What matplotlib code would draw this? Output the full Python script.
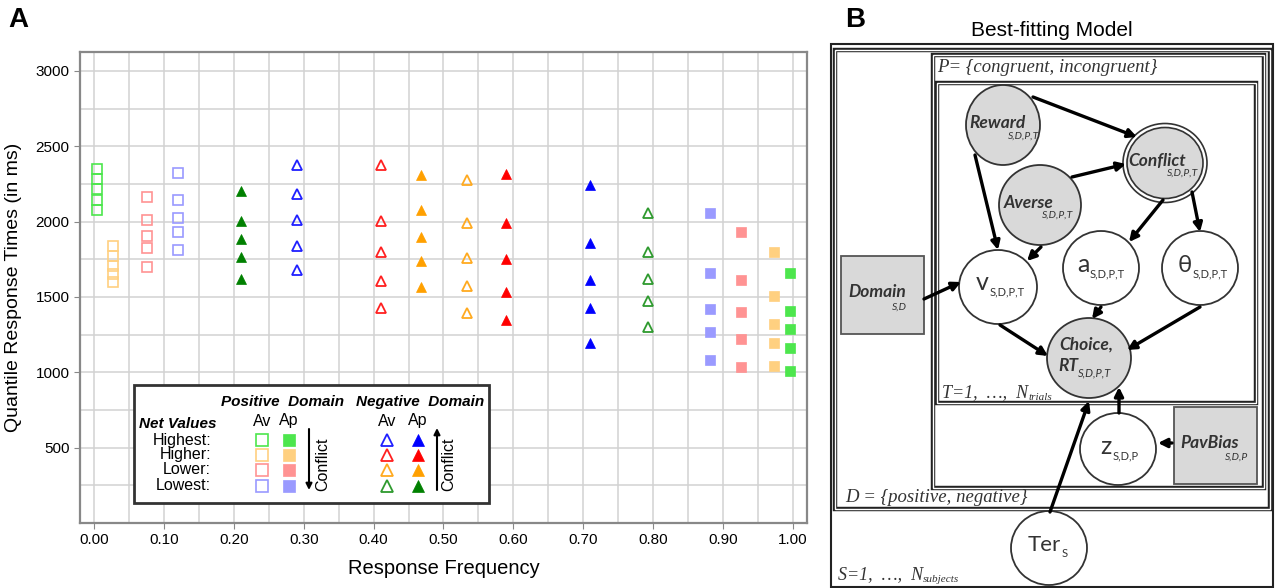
import numpy as np
import matplotlib as mpl
mpl.use("Agg")
import matplotlib.pyplot as plt
from matplotlib.patches import Ellipse, Rectangle

plt.rcParams['font.family'] = ['Liberation Sans', 'DejaVu Sans']

# ---- data (panel A) ----
levels = ["Highest:", "Higher:", "Lower:", "Lowest:"]

# response frequency of each choice, per net-value level
pos_av_freq = [0.005, 0.027, 0.076, 0.120]
pos_ap_freq = [0.996, 0.973, 0.926, 0.881]
neg_av_freq = [0.291, 0.411, 0.533, 0.792]
neg_ap_freq = [0.710, 0.589, 0.468, 0.210]

# five RT quantiles (ms) per level
pos_av_rt = [[2078, 2145, 2216, 2282, 2350],
             [1601, 1652, 1702, 1769, 1840],
             [1698, 1824, 1901, 2012, 2166],
             [1813, 1932, 2025, 2143, 2319]]
pos_ap_rt = [[1011, 1163, 1287, 1408, 1656],
             [1039, 1192, 1322, 1506, 1800],
             [1035, 1221, 1400, 1614, 1928],
             [1084, 1269, 1422, 1660, 2056]]
neg_av_rt = [[1680, 1835, 2010, 2182, 2377],
             [1426, 1605, 1800, 2003, 2377],
             [1391, 1572, 1758, 1992, 2279],
             [1298, 1475, 1616, 1800, 2054]]
neg_ap_rt = [[1196, 1424, 1609, 1857, 2242],
             [1349, 1535, 1749, 1990, 2317],
             [1568, 1738, 1895, 2076, 2310],
             [1619, 1765, 1884, 2001, 2206]]

pos_colors = ['#4de64d', '#ffd080', '#ff9393', '#9a9aff']
neg_colors = ['#0000ff', '#ff0000', '#ffa000', '#008000']
neg_open_colors = ['#2020ff', '#ff2020', '#ffaa20', '#2e9a2e']

fig = plt.figure(figsize=(12.75, 5.88), dpi=100)
W, H = 1275, 588

ax = fig.add_axes([80 / W, 1 - 523 / H, 727 / W, 471 / H])
ax.set_xlim(-0.02, 1.02)
ax.set_ylim(0, 3125)
ax.set_xticks(np.arange(0, 1.01, 0.1))
ax.set_xticks(np.arange(0, 1.01, 0.05), minor=True)
ax.set_xticklabels([f"{v:.2f}" for v in np.arange(0, 1.01, 0.1)])
ax.set_yticks(np.arange(500, 3001, 500))
ax.set_yticks(np.arange(0, 3001, 250), minor=True)
ax.grid(True, which='both', color='#d2d2d2', lw=1.1)
ax.set_axisbelow(True)
ax.tick_params(which='both', length=4, color='#888888', labelsize=11)
ax.tick_params(which='minor', length=0)
for s in ax.spines.values():
    s.set_color('#888888')
    s.set_linewidth(1.6)
ax.set_xlabel("Response Frequency", fontsize=14.5, labelpad=8)
ax.set_ylabel("Quantile Response Times (in ms)", fontsize=14, labelpad=10)

for i in range(4):
    ax.plot([pos_av_freq[i]] * 5, pos_av_rt[i], 's', ms=7, mfc='none',
            mec=pos_colors[i], mew=1.2)
    ax.plot([pos_ap_freq[i]] * 5, pos_ap_rt[i], 's', ms=7, mfc=pos_colors[i],
            mec=pos_colors[i], mew=0.5)
    ax.plot([neg_av_freq[i]] * 5, neg_av_rt[i], '^', ms=7, mfc='none',
            mec=neg_open_colors[i], mew=1.3)
    ax.plot([neg_ap_freq[i]] * 5, neg_ap_rt[i], '^', ms=7, mfc=neg_colors[i],
            mec=neg_colors[i], mew=0.5)

# ---- overlay in pixel coordinates: legend box, labels, panel B ----
ov = fig.add_axes([0, 0, 1, 1], zorder=5)
ov.set_xlim(0, W)
ov.set_ylim(H, 0)
ov.axis('off')

ov.text(8, 20, "A", fontsize=20, fontweight='bold', va='center', ha='left')
ov.text(845, 20, "B", fontsize=20, fontweight='bold', va='center', ha='left')

# legend
ov.add_patch(Rectangle((134, 385), 355, 118, fc='white', ec='#333333', lw=2))
bi = dict(fontsize=11, fontweight='bold', fontstyle='italic', va='center')
ov.text(283, 402, "Positive  Domain", ha='center', **bi)
ov.text(420, 402, "Negative  Domain", ha='center', **bi)
ov.text(178, 424, "Net Values", ha='center', **bi)
for xh, lab in [(262, "Av"), (289, "Ap"), (387, "Av"), (418, "Ap")]:
    ov.text(xh, 421, lab, ha='center', va='center', fontsize=11.5)
rows = [440, 454.5, 469.5, 486]
for i, yr in enumerate(rows):
    ov.text(211, yr, levels[i], ha='right', va='center', fontsize=11.5)
    ov.plot(262, yr, 's', ms=8, mfc='none', mec=pos_colors[i], mew=1.2)
    ov.plot(289, yr, 's', ms=8, mfc=pos_colors[i], mec=pos_colors[i], mew=0.5)
    ov.plot(387, yr, '^', ms=8, mfc='none', mec=neg_open_colors[i], mew=1.3)
    ov.plot(418, yr, '^', ms=8, mfc=neg_colors[i], mec=neg_colors[i], mew=0.5)
ov.annotate("", xy=(309, 490), xytext=(309, 429),
            arrowprops=dict(arrowstyle='-|>', lw=1.5, color='black', mutation_scale=9,
                            shrinkA=0, shrinkB=0))
ov.annotate("", xy=(437, 428), xytext=(437, 490),
            arrowprops=dict(arrowstyle='-|>', lw=1.5, color='black', mutation_scale=9,
                            shrinkA=0, shrinkB=0))
ov.text(323, 464, "Conflict", rotation=90, ha='center', va='center', fontsize=11.5)
ov.text(449, 464, "Conflict", rotation=90, ha='center', va='center', fontsize=11.5)

# panel B: graphical model
ov.text(1052, 30, "Best-fitting Model", ha='center', va='center', fontsize=15)


def dbox(x0, y0, x1, y1):
    ov.add_patch(Rectangle((x0, y0), x1 - x0, y1 - y0, fc='none', ec='#222222', lw=3.2))
    ov.add_patch(Rectangle((x0, y0), x1 - x0, y1 - y0, fc='none', ec='white', lw=1.0))


def subscript(txt, text, size=7.5, dx=0.5, dy=-1, **kw):
    # place a subscript just after the lower-right corner of another text
    ov.annotate(text, xy=(1, 0.15), xycoords=txt, xytext=(dx, dy),
                textcoords='offset points', ha='left', va='center',
                fontsize=size, **kw)


ov.add_patch(Rectangle((831, 44), 442, 543, fc='none', ec='#222222', lw=1.5))
dbox(835, 50, 1270, 509)
dbox(933, 55, 1264, 488)
dbox(937, 83, 1256, 403)

serif = dict(family='Liberation Serif', fontstyle='italic', color='#333333')
ov.text(937, 67, "P= {congruent, incongruent}", ha='left', va='center',
        fontsize=13.5, **serif)
t = ov.text(942, 393, "T=1,  …,  N", ha='left', va='center', fontsize=13, **serif)
subscript(t, "trials", size=8, dx=0, dy=1, **serif)
ov.text(845, 498, "D = {positive, negative}", ha='left', va='center',
        fontsize=13.5, **serif)
t = ov.text(838, 575, "S=1,  …,  N", ha='left', va='center', fontsize=13, **serif)
subscript(t, "subjects", size=8, dx=0, dy=1, **serif)

gray = '#d9d9d9'
nodes = {
    'reward': (1003, 125, 37, 40, gray),
    'averse': (1040, 205, 41, 40, gray),
    'v': (998, 287, 39, 37, 'white'),
    'a': (1101, 268, 38, 37, 'white'),
    'theta': (1200, 268, 38, 37, 'white'),
    'choice': (1089, 358, 42, 40, gray),
    'z': (1118, 449, 38, 36, 'white'),
    'ter': (1049, 548, 38, 37, 'white'),
}
for cx, cy, rx, ry, fc in nodes.values():
    ov.add_patch(Ellipse((cx, cy), 2 * rx, 2 * ry, fc=fc, ec='#333333', lw=1.3))
ov.add_patch(Ellipse((1165, 163), 84, 79, fc='white', ec='#333333', lw=1.2))
ov.add_patch(Ellipse((1165, 163), 76, 71, fc=gray, ec='#333333', lw=1.2))
ov.add_patch(Rectangle((841, 256), 83, 78, fc=gray, ec='#555555', lw=1.3))
ov.add_patch(Rectangle((1174, 407), 83, 77, fc=gray, ec='#555555', lw=1.3))

lab = dict(family=['Lato', 'DejaVu Sans'], color='#333333')
it = dict(fontstyle='italic', fontweight='bold', fontsize=12.5, ha='center', va='center')
sub = dict(fontstyle='italic', fontsize=7.5, ha='center', va='center')
for txt, x, y, s, sx, sy in [("Reward", 997, 123, "S,D,P,T", 1024, 136),
                            ("Conflict", 1157, 161, "S,D,P,T", 1183, 173),
                            ("Averse", 1029, 203, "S,D,P,T", 1058, 215),
                            ("Domain", 877, 292, "S,D", 899, 307),
                            ("PavBias", 1210, 443, "S,D,P", 1237, 457)]:
    ov.text(x, y, txt, **it, **lab)
    ov.text(sx, sy, s, **sub, **lab)
ov.text(1086, 345, "Choice,", **it, **lab)
t = ov.text(1068, 366, "RT", **it, **lab)
subscript(t, "S,D,P,T", size=8, dx=0, dy=-1, fontstyle='italic', **lab)

for sym, x, y, s, fs in [("v", 982, 282, "S,D,P,T", 18),
                         ("a", 1083, 264, "S,D,P,T", 18),
                         ("θ", 1185, 265, "S,D,P,T", 17),
                         ("z", 1106, 446, "S,D,P", 18),
                         ("Ter", 1044, 545, "S", 16)]:
    t = ov.text(x, y, sym, ha='center', va='center', fontsize=fs, **lab)
    subscript(t, s, size=8, dx=0.5, dy=-1, **lab)

arrows = [((1033, 97), (1137, 137)),
          ((1072, 177), (1126, 164)),
          ((975, 155), (998, 250)),
          ((1041, 247), (1027, 261)),
          ((1163, 200), (1129, 242)),
          ((1192, 192), (1200, 232)),
          ((924, 299), (961, 282)),
          ((1000, 325), (1048, 356)),
          ((1101, 307), (1092, 319)),
          ((1200, 307), (1127, 350)),
          ((1119, 413), (1119, 387)),
          ((1172, 443), (1158, 443)),
          ((1050, 512), (1089, 401))]
for (x0, y0), (x1, y1) in arrows:
    ov.annotate("", xy=(x1, y1), xytext=(x0, y0),
                arrowprops=dict(arrowstyle='-|>', lw=2.4, color='black',
                                mutation_scale=13, shrinkA=0, shrinkB=0))

fig.savefig("out.png", dpi=100)
